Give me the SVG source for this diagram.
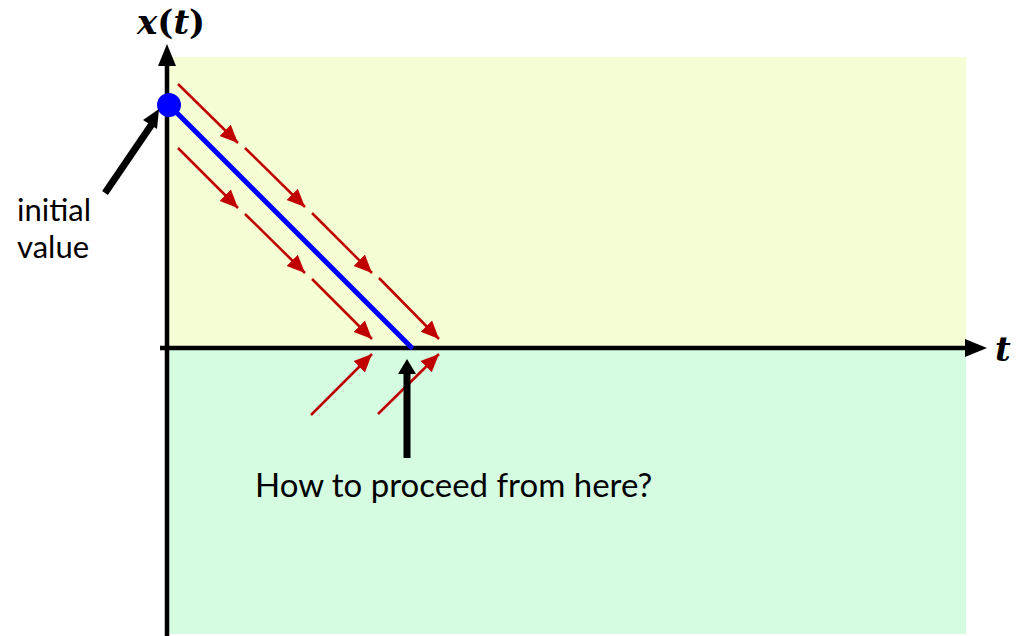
<svg xmlns="http://www.w3.org/2000/svg" width="1019" height="636" viewBox="0 0 1019 636">
<defs>
<style>
.red{stroke:#C00000;stroke-width:2.5;fill:none;marker-end:url(#ra)}
.lbl{font-family:Lato,"Open Sans",sans-serif;font-size:33px;fill:#000}
.sm{font-size:31px}
.math{font-family:"DejaVu Serif",serif;font-weight:bold;font-size:34px;fill:#000}
</style>
<marker id="ra" markerUnits="userSpaceOnUse" markerWidth="20" markerHeight="20" viewBox="0 0 20 20" refX="18" refY="10" orient="auto">
<path d="M0,2 L18,10 L0,18 Z" fill="#C00000"/>
</marker>
</defs>
<g id="background">
<rect x="167" y="57" width="799" height="291" fill="#F5FDD5"/>
<rect x="167" y="348" width="799" height="286" fill="#D5FCE1"/>
</g>
<g id="axes">
<line x1="167" y1="636" x2="167" y2="62" stroke="#000" stroke-width="4.5"/>
<path d="M158,66 L167,44 L176,66 Z" fill="#000"/>
<line x1="160" y1="348" x2="968" y2="348" stroke="#000" stroke-width="4.5"/>
<path d="M965,339 L987,348 L965,357 Z" fill="#000"/>
<text class="math" x="137" y="34"><tspan font-style="italic">x</tspan>(<tspan font-style="italic">t</tspan>)</text>
<text class="math" x="995" y="361" font-style="italic">t</text>
</g>
<g id="solution">
<line x1="169" y1="105" x2="411" y2="347" stroke="#0000FF" stroke-width="5" stroke-linecap="round"/>
<circle cx="169" cy="105" r="12" fill="#0000FF"/>
</g>
<g id="connectors">
<line class="red" x1="178" y1="84" x2="238" y2="143"/>
<line class="red" x1="245" y1="148" x2="305" y2="207"/>
<line class="red" x1="312" y1="213" x2="372" y2="273"/>
<line class="red" x1="379" y1="278" x2="439" y2="339"/>
<line class="red" x1="178" y1="148" x2="238" y2="208"/>
<line class="red" x1="245" y1="214" x2="305" y2="273"/>
<line class="red" x1="312" y1="279" x2="372" y2="339"/>
<line class="red" x1="311" y1="415" x2="372" y2="354"/>
<line class="red" x1="378" y1="414" x2="439" y2="354"/>
<line x1="407" y1="458" x2="407" y2="372" stroke="#000" stroke-width="7"/>
<path d="M398,374 L407,359 L416,374 Z" fill="#000"/>
<line x1="105" y1="193" x2="152" y2="124" stroke="#000" stroke-width="7"/>
<path d="M143,120 L159,109 L157,129 Z" fill="#000"/>
</g>
<g id="labels">
<text class="lbl sm" x="17" y="221">initial</text>
<text class="lbl sm" x="17" y="258">value</text>
<text class="lbl" x="255" y="497">How to proceed from here?</text>
</g>
</svg>
